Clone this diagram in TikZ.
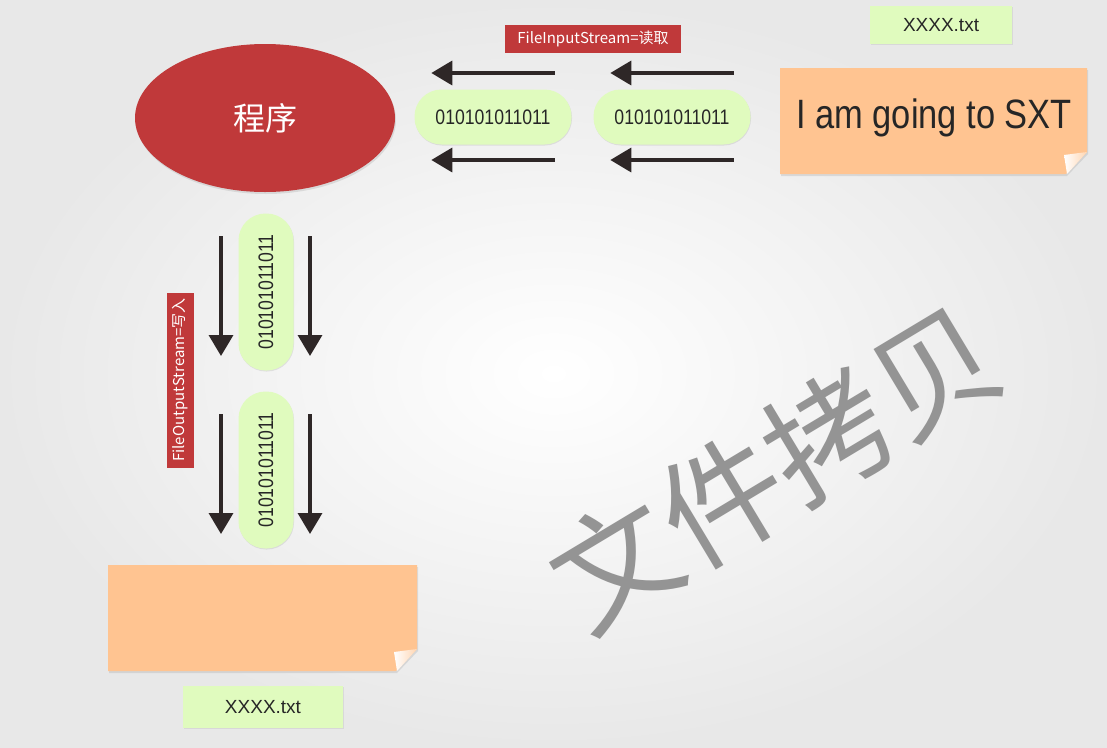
\documentclass[tikz,border=0pt]{standalone}
\usepackage{fontspec}
\setmainfont{Liberation Sans}
\newfontfamily\cjk{Noto Sans CJK SC}
\newfontfamily\narrow[FakeStretch=0.84]{Liberation Sans}
\usetikzlibrary{arrows.meta,shapes.geometric,shadows}
\definecolor{progred}{RGB}{192,57,58}
\definecolor{bitgreen}{RGB}{224,251,190}
\definecolor{notefill}{RGB}{255,196,145}
\definecolor{arrowdark}{RGB}{46,39,39}

\begin{document}
\begin{tikzpicture}[x=1pt,y=-1pt]
		\tikzstyle{bits}=[rectangle,rounded corners=27pt,fill=bitgreen,minimum width=157pt,minimum height=55pt,inner sep=0pt,text=black!85,font=\narrow\fontsize{21}{24}\selectfont,drop shadow={opacity=0.18,shadow xshift=0.5pt,shadow yshift=-1pt}]
		\tikzstyle{tag}=[rectangle,fill=progred,text=white,minimum width=176pt,minimum height=28pt,inner sep=0pt,font=\cjk\fontsize{15}{17}\selectfont]
		\tikzstyle{fname}=[rectangle,fill=bitgreen,text=black!85,inner sep=0pt,font=\fontsize{19}{21}\selectfont,drop shadow={opacity=0.15,shadow xshift=0.5pt,shadow yshift=-1pt}]
		\tikzstyle{flow}=[draw=arrowdark,line width=3.5pt,-{Triangle[width=24pt,length=21pt]}]
		\tikzstyle{note}=[fill=notefill,drop shadow={opacity=0.2,shadow xshift=1pt,shadow yshift=-2pt}]
		\tikzstyle{curl}=[left color=white,right color=notefill!70]
		
		% Background
		\useasboundingbox (0,0) rectangle (1107,747);
		\shade[inner color=white,outer color=black!9] (0,0) rectangle (1107,747);
		
		% Watermark
		\node[rotate=31,text=black!42,inner sep=0pt] (title) at (775,468) {\cjk\fontsize{124}{124}\selectfont 文件拷贝};
		
		% Draw the program node
		\node[ellipse,fill=progred,minimum width=260pt,minimum height=148pt,text=white,font=\cjk\fontsize{32}{36}\selectfont,drop shadow={opacity=0.2,shadow xshift=1pt,shadow yshift=-2pt}] (prog) at (265,118) {程序};
		
		% Draw the source file
		\fill[note] (780,68) -- (1087,68) -- (1087,152) -- (1066,174) -- (780,174) -- cycle;
		\shade[curl] (1064,155) -- (1087,152) -- (1067,174) -- cycle;
		\node[text=black!85,font=\narrow\fontsize{41}{44}\selectfont] (srctxt) at (934,118) {I am going to SXT};
		\node[fname,minimum width=142pt,minimum height=38pt] (srcname) at (941,25) {XXXX.txt};
		
		% Draw the target file
		\fill[note] (108,565) -- (417,565) -- (417,649) -- (396,671) -- (108,671) -- cycle;
		\shade[curl] (394,652) -- (417,649) -- (397,671) -- cycle;
		\node[fname,minimum width=160pt,minimum height=42pt] (dstname) at (263,707) {XXXX.txt};
		
		% Draw the bytes read from the file
		\node[bits] (B-1) at (493,117) {010101011011};
		\node[bits] (B-2) at (672,117) {010101011011};
		\node[tag] (read) at (593,39) {FileInputStream=读取};
		
		% Draw the bytes written to the file
		\node[bits,rotate=90] (V-1) at (266,292) {010101011011};
		\node[bits,rotate=90] (V-2) at (266,470) {010101011011};
		\node[tag,rotate=90,minimum width=175pt,minimum height=27pt] (write) at (180,380) {FileOutputStream=写入};
		
		% Arrows above and below the read bytes
		\foreach \b in {1,2}
		\foreach \dy in {44,-43}
		\draw[flow] ([xshift=-17pt,yshift=\dy pt]B-\b.east) -- ([xshift=17pt,yshift=\dy pt]B-\b.west);
		
		% Arrows left and right of the written bytes
		\foreach \v in {1,2}
		\foreach \dx in {-45,44}
		\draw[flow] ([xshift=\dx pt,yshift=56pt]V-\v.center) -- ([xshift=\dx pt,yshift=-64pt]V-\v.center);
	\end{tikzpicture}
\end{document}
